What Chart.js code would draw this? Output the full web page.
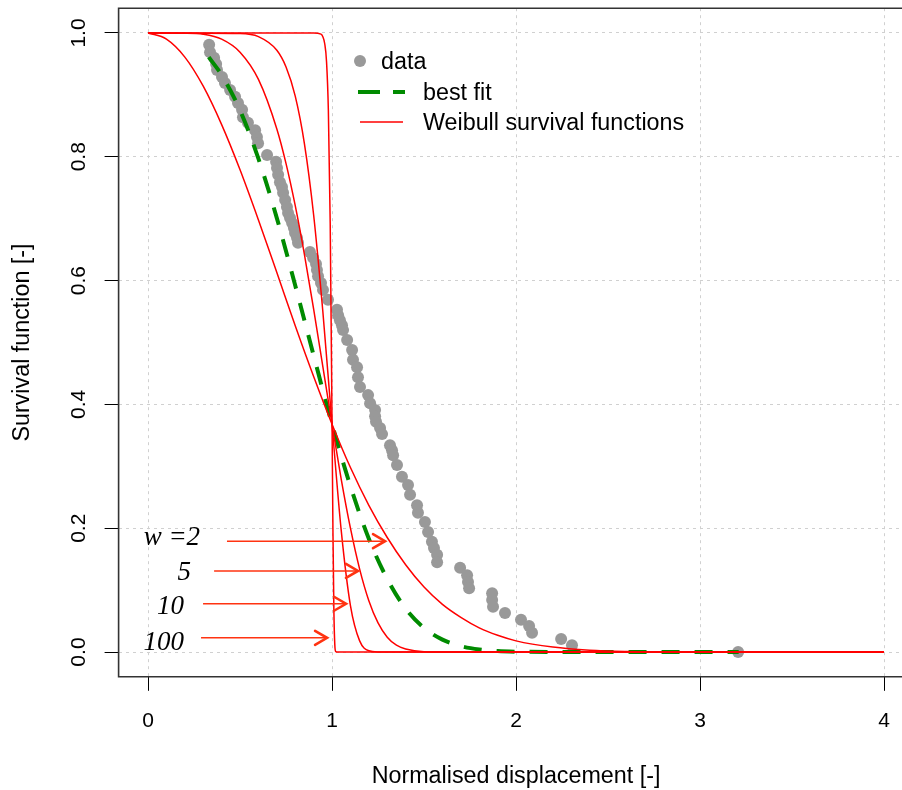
<!DOCTYPE html>
<html><head><meta charset="utf-8">
<script src="https://cdn.jsdelivr.net/npm/chart.js@4/dist/chart.umd.min.js"></script>
<style>
html,body{margin:0;padding:0;background:#fff;overflow:hidden;}
canvas{display:block;}
</style></head><body>
<canvas id="c" width="902" height="790" style="width:902px;height:790px;"></canvas>
<script>
// ---- axis ticks ----
const xTicks = [0, 1, 2, 3, 4];
const yTicks = [0, 0.2, 0.4, 0.6, 0.8, 1.0];
const yTickLabels = ['0.0', '0.2', '0.4', '0.6', '0.8', '1.0'];
const xTitle = 'Normalised displacement [-]';
const yTitle = 'Survival function [-]';

// ---- observed data (empirical survival) ----
const dataX = [0.332,0.337,0.359,0.370,0.375,0.402,0.418,0.446,0.473,0.489,
  0.511,0.516,0.543,0.582,0.592,0.598,0.647,0.696,0.701,0.707,
  0.717,0.728,0.734,0.745,0.755,0.761,0.772,0.783,0.793,0.799,
  0.810,0.815,0.880,0.897,0.913,0.918,0.924,0.940,0.951,0.978,
  1.027,1.033,1.043,1.054,1.060,1.082,1.109,1.114,1.136,1.141,
  1.152,1.196,1.207,1.234,1.234,1.239,1.261,1.272,1.315,1.326,
  1.332,1.353,1.380,1.413,1.424,1.462,1.467,1.505,1.522,1.543,
  1.554,1.571,1.571,1.696,1.734,1.739,1.745,1.870,1.870,1.875,
  1.940,2.027,2.071,2.087,2.245,2.304,3.207];
const dataY = [0.981,0.969,0.960,0.950,0.940,0.929,0.919,0.908,0.897,0.887,
  0.876,0.864,0.855,0.843,0.832,0.822,0.803,0.792,0.782,0.771,
  0.759,0.751,0.742,0.730,0.719,0.709,0.701,0.693,0.685,0.677,
  0.669,0.661,0.646,0.637,0.627,0.617,0.607,0.596,0.585,0.569,
  0.553,0.544,0.536,0.528,0.520,0.504,0.488,0.472,0.460,0.444,
  0.428,0.415,0.402,0.391,0.381,0.372,0.362,0.352,0.334,0.326,
  0.318,0.302,0.283,0.270,0.254,0.237,0.225,0.210,0.194,0.178,
  0.168,0.157,0.145,0.136,0.124,0.113,0.103,0.095,0.084,0.073,
  0.063,0.052,0.042,0.031,0.021,0.011,0.000];

// ---- best fit curve ----
const fitX = [0.33,0.4,0.5,0.6,0.7,0.8,0.9,1.0,1.1,1.2,1.3,1.4,1.5,1.6,1.7,1.8,1.9,2.0,2.2,2.5,3.21];
const fitY = [0.961,0.932,0.875,0.797,0.701,0.592,0.479,0.368,0.268,0.183,0.118,0.070,0.039,0.020,0.0095,0.0041,0.0016,0.0006,0.0001,0,0];

// ---- Weibull survival functions ----
const w2X = [0,0.1,0.2,0.3,0.4,0.5,0.6,0.7,0.8,0.9,1.0,1.1,1.2,1.3,1.4,1.5,1.6,1.7,1.8,1.9,2.0,2.2,2.4,2.6,2.8,3.0,3.5,4.0];
const w2Y = [1,0.990,0.961,0.914,0.852,0.779,0.698,0.613,0.527,0.445,0.368,0.298,0.237,0.185,0.141,0.105,0.077,0.056,0.039,0.027,0.018,0.008,0.003,0.001,0.0004,0.0001,0,0];
const w5X = [0,0.2,0.3,0.4,0.5,0.6,0.7,0.75,0.8,0.85,0.9,0.95,1.0,1.05,1.1,1.15,1.2,1.25,1.3,1.35,1.4,1.5,1.6,2,4];
const w5Y = [1,0.9997,0.998,0.990,0.969,0.925,0.845,0.789,0.721,0.642,0.554,0.461,0.368,0.279,0.200,0.134,0.083,0.047,0.024,0.011,0.005,0.0005,0,0,0];
const w10X = [0,0.5,0.6,0.7,0.75,0.8,0.85,0.9,0.95,1.0,1.05,1.1,1.15,1.2,1.25,1.3,4];
const w10Y = [1,0.999,0.994,0.972,0.945,0.898,0.821,0.706,0.550,0.368,0.196,0.075,0.018,0.002,0.0001,0,0];
const w100X = [0,0.9,0.94,0.95,0.96,0.97,0.98,0.99,1.0,1.005,1.01,1.015,1.02,1.03,4];
const w100Y = [1,1,0.998,0.994,0.983,0.954,0.875,0.694,0.368,0.193,0.067,0.012,0.001,0,0];

// ---- shape annotations ----
const arrowLabels = ['w =2', '5', '10', '100'];
const arrowY = [0.179, 0.131, 0.078, 0.023];
const arrowFromX = [0.429, 0.359, 0.299, 0.288];
const arrowToX = [1.288, 1.141, 1.076, 0.973];
const labelRightX = [0.283, 0.234, 0.196, 0.196];
const labelBaseY = [0.173, 0.116, 0.061, 0.003];

const legendLabels = ['data', 'best fit', 'Weibull survival functions'];

const pts = (xs, ys) => xs.map((x, i) => ({x: x, y: ys[i]}));
const RED = '#ff0000', GREEN = '#008b00', GREY = '#999999', ARROW = '#ff3311';
const SANS = '"Liberation Sans", Arial, Helvetica, sans-serif';

function redLine(xs, ys) {
  return {data: pts(xs, ys), showLine: true, borderColor: RED, borderWidth: 1.5,
    pointRadius: 0, fill: false, cubicInterpolationMode: 'monotone'};
}

const decor = {
  id: 'decor',
  afterDatasetsDraw(chart) {
    const ctx = chart.ctx, a = chart.chartArea;
    const xs = chart.scales.x, ys = chart.scales.y;
    ctx.save();
    // box (right side lies beyond the canvas edge, as in the source)
    ctx.strokeStyle = '#333'; ctx.lineWidth = 1.6;
    ctx.beginPath();
    ctx.moveTo(chart.width + 5, a.top); ctx.lineTo(a.left, a.top);
    ctx.lineTo(a.left, a.bottom); ctx.lineTo(chart.width + 5, a.bottom);
    ctx.stroke();
    // y tick labels rotated
    ctx.fillStyle = '#000';
    ctx.font = '21px ' + SANS;
    ctx.textAlign = 'center'; ctx.textBaseline = 'alphabetic';
    yTicks.forEach((v, i) => {
      ctx.save();
      ctx.translate(85, ys.getPixelForValue(v));
      ctx.rotate(-Math.PI / 2);
      ctx.fillText(yTickLabels[i], 0, 0);
      ctx.restore();
    });
    // y title
    ctx.font = '23.3px ' + SANS;
    ctx.save();
    ctx.translate(29, (a.top + a.bottom) / 2);
    ctx.rotate(-Math.PI / 2);
    ctx.fillText(yTitle, 0, 0);
    ctx.restore();
    // x title (centred on the full plot region x in [-0.16, 4.16])
    const xc = (xs.getPixelForValue(-0.16) + xs.getPixelForValue(4.16)) / 2;
    ctx.fillText(xTitle, xc, 783);
    // arrows
    for (let i = 0; i < arrowLabels.length; i++) {
      const y = ys.getPixelForValue(arrowY[i]);
      const x0 = xs.getPixelForValue(arrowFromX[i]);
      const x1 = xs.getPixelForValue(arrowToX[i]);
      ctx.strokeStyle = ARROW; ctx.lineWidth = 1.5; ctx.lineCap = 'butt';
      ctx.beginPath(); ctx.moveTo(x0, y); ctx.lineTo(x1, y); ctx.stroke();
      ctx.lineWidth = 2.6; ctx.lineJoin = 'miter'; ctx.lineCap = 'round';
      ctx.beginPath();
      ctx.moveTo(x1 - 12, y - 7); ctx.lineTo(x1, y); ctx.lineTo(x1 - 12, y + 7);
      ctx.stroke();
      ctx.fillStyle = '#000';
      ctx.font = 'italic 27px "Liberation Serif", "Times New Roman", serif';
      ctx.textAlign = 'right'; ctx.textBaseline = 'alphabetic';
      ctx.fillText(arrowLabels[i], xs.getPixelForValue(labelRightX[i]), ys.getPixelForValue(labelBaseY[i]));
    }
    // legend
    ctx.font = '23.3px ' + SANS;
    ctx.textAlign = 'left'; ctx.textBaseline = 'alphabetic';
    ctx.fillStyle = GREY;
    ctx.beginPath(); ctx.arc(360, 61, 6, 0, Math.PI * 2); ctx.fill();
    ctx.fillStyle = '#000';
    ctx.fillText(legendLabels[0], 381, 69);
    ctx.strokeStyle = GREEN; ctx.lineWidth = 4; ctx.lineCap = 'butt';
    ctx.setLineDash([22, 13]);
    ctx.beginPath(); ctx.moveTo(358, 92); ctx.lineTo(405, 92); ctx.stroke();
    ctx.setLineDash([]);
    ctx.fillText(legendLabels[1], 423, 100);
    ctx.strokeStyle = RED; ctx.lineWidth = 1.5;
    ctx.beginPath(); ctx.moveTo(360, 122); ctx.lineTo(403, 122); ctx.stroke();
    ctx.fillText(legendLabels[2], 423, 130);
    ctx.restore();
  }
};

new Chart(document.getElementById('c'), {
  type: 'scatter',
  data: {
    datasets: [
      redLine(w2X, w2Y),
      redLine(w5X, w5Y),
      redLine(w10X, w10Y),
      redLine(w100X, w100Y),
      {data: pts(fitX, fitY), showLine: true, borderColor: GREEN, borderWidth: 4,
        borderDash: [18, 15], pointRadius: 0, fill: false, cubicInterpolationMode: 'monotone'},
      {data: pts(dataX, dataY), showLine: false, pointRadius: 6, pointBorderWidth: 0,
        backgroundColor: GREY, borderColor: GREY, pointHoverRadius: 6}
    ]
  },
  options: {
    responsive: false, maintainAspectRatio: false, animation: false,
    devicePixelRatio: 1,
    events: [],
    layout: {autoPadding: false, padding: {left: 0, right: 0, top: 8.2, bottom: 0}},
    plugins: {legend: {display: false}, tooltip: {enabled: false}, title: {display: false}},
    scales: {
      x: {
        type: 'linear', min: -0.16, max: 4.0976,
        afterBuildTicks: s => { s.ticks = xTicks.map(v => ({value: v})); },
        afterFit: s => { s.height = 113.2; s.paddingLeft = 0; s.paddingRight = 0; },
        grid: {color: '#d0d0d0', lineWidth: 1, tickLength: 14, tickColor: '#000', tickWidth: 1, tickBorderDash: []},
        border: {display: false, dash: [3, 4]},
        ticks: {color: '#000', font: {family: SANS, size: 21}, padding: 18, maxRotation: 0}
      },
      y: {
        type: 'linear', min: -0.04, max: 1.04,
        afterBuildTicks: s => { s.ticks = yTicks.map(v => ({value: v})); },
        afterFit: s => { s.width = 118.6; s.paddingTop = 0; s.paddingBottom = 0; },
        grid: {color: '#d0d0d0', lineWidth: 1, tickLength: 14, tickColor: '#000', tickWidth: 1, tickBorderDash: []},
        border: {display: false, dash: [3, 4]},
        ticks: {display: false}
      }
    }
  },
  plugins: [decor]
});
</script>
</body></html>
